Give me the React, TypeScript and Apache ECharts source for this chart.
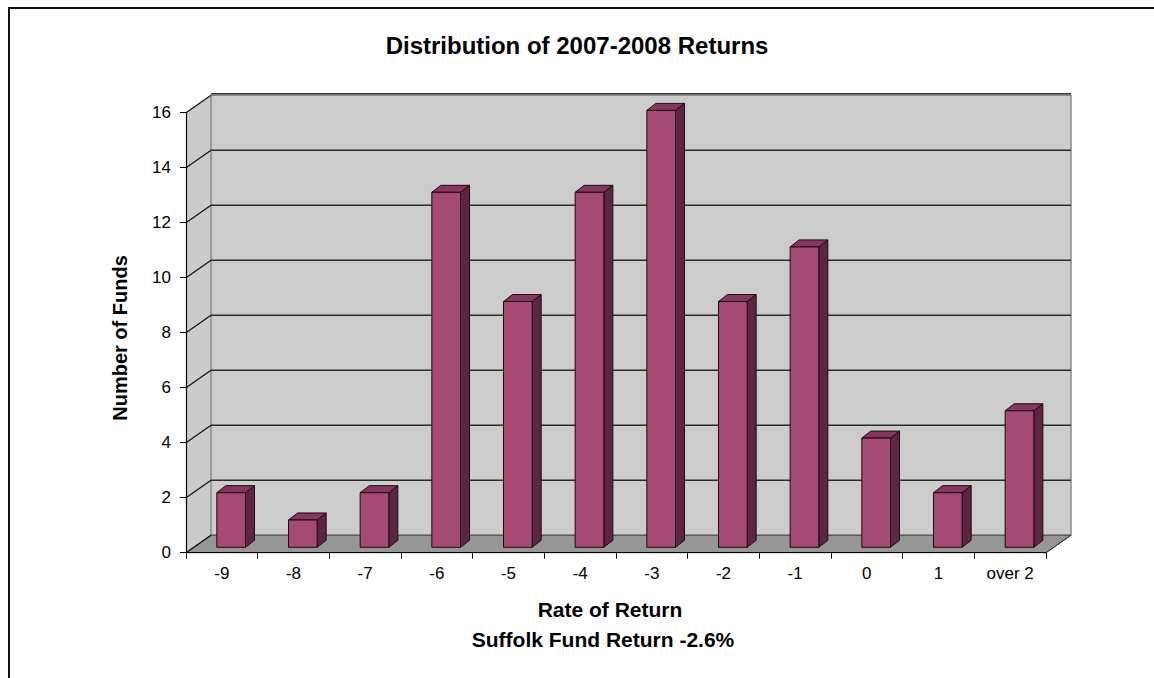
import React, { useEffect, useRef } from "react";
import * as echarts from "echarts";

const categories = ["-9", "-8", "-7", "-6", "-5", "-4", "-3", "-2", "-1", "0", "1", "over 2"];
const funds = [2, 1, 2, 13, 9, 13, 16, 9, 11, 4, 2, 5];
const yMin = 0;
const yMax = 16;
const yStep = 2;
const gridValues = [0, 2, 4, 6, 8, 10, 12, 14, 16];
const titleText = "Distribution of 2007-2008 Returns";
const xName = "Rate of Return";
const xSubName = "Suffolk Fund Return -2.6%";
const yName = "Number of Funds";

const FONT = 'Arial, "Liberation Sans", Helvetica, sans-serif';
const DX = 25;
const DY = -17.5;
const BDX = 9;
const BDY = -7;

export default function App() {
  const ref = useRef<HTMLDivElement>(null);
  useEffect(() => {
    if (!ref.current) return;
    const chart = echarts.init(ref.current, null, { renderer: "svg" });

    const wallsRender = (params: any, api: any) => {
      const cs = params.coordSys;
      const x = cs.x, y = cs.y, w = cs.width, h = cs.height;
      const b = y + h;
      const children: any[] = [];
      children.push({
        type: "polygon",
        shape: { points: [[x, y], [x + DX, y + DY], [x + DX, b + DY], [x, b]] },
        style: { fill: "#cbcbcb" },
      });
      children.push({
        type: "rect",
        shape: { x: x + DX, y: y + DY, width: w, height: h },
        style: { fill: "#cccccc", stroke: "#8a8a8a", lineWidth: 1.5 },
      });
      children.push({
        type: "polygon",
        shape: { points: [[x, b], [x + DX, b + DY], [x + w + DX, b + DY], [x + w, b]] },
        style: { fill: "#969696", stroke: "#444", lineWidth: 1 },
      });
      gridValues.forEach((v) => {
        const yy = api.coord([0, v])[1];
        children.push({
          type: "line",
          shape: { x1: x, y1: yy, x2: x + DX, y2: yy + DY },
          style: { stroke: "#111", lineWidth: 1.2 },
        });
        if (v > 0 && v < yMax) {
          children.push({
            type: "line",
            shape: { x1: x + DX, y1: yy + DY, x2: x + w + DX, y2: yy + DY },
            style: { stroke: "#2a2a2a", lineWidth: 1.5 },
          });
        }
      });
      children.push({
        type: "line",
        shape: { x1: x + DX, y1: y + DY - 1.5, x2: x + w + DX, y2: y + DY - 1.5 },
        style: { stroke: "#333", lineWidth: 1.5 },
      });
      children.push({
        type: "line",
        shape: { x1: x + w, y1: b, x2: x + w + DX, y2: b + DY },
        style: { stroke: "#333", lineWidth: 1 },
      });
      return { type: "group", children };
    };

    const barRender = (params: any, api: any) => {
      const idx = api.value(0);
      const val = api.value(1);
      const base = api.coord([idx, 0]);
      const topP = api.coord([idx, val]);
      const bw = api.size([1, 0])[0] * 0.4;
      const left = base[0] - 5;
      const right = left + bw;
      const yb = base[1] - 5.4;
      const yt = yb - (base[1] - topP[1]) * 0.993;
      const stroke = { stroke: "#1a0a12", lineWidth: 1 };
      return {
        type: "group",
        children: [
          {
            type: "polygon",
            shape: { points: [[right, yt], [right + BDX, yt + BDY], [right + BDX, yb + BDY], [right, yb]] },
            style: { fill: "#5e2543", ...stroke },
          },
          {
            type: "polygon",
            shape: { points: [[left, yt], [left + BDX, yt + BDY], [right + BDX, yt + BDY], [right, yt]] },
            style: { fill: "#85375d", ...stroke },
          },
          {
            type: "rect",
            shape: { x: left, y: yt, width: bw, height: yb - yt },
            style: { fill: "#a44a73", ...stroke },
          },
        ],
      };
    };

    chart.setOption({
      animation: false,
      backgroundColor: "#ffffff",
      textStyle: { fontFamily: FONT },
      grid: { left: 186, right: 108, top: 112.7, bottom: 125.3 },
      xAxis: {
        type: "category",
        data: categories,
        z: 10,
        axisLine: { lineStyle: { color: "#000", width: 1.2 } },
        axisTick: { show: true, length: 6, lineStyle: { color: "#000" } },
        axisLabel: { color: "#000", fontSize: 17, margin: 12, fontFamily: FONT },
      },
      yAxis: {
        type: "value",
        min: yMin,
        max: yMax,
        interval: yStep,
        z: 10,
        axisLine: { show: true, lineStyle: { color: "#000", width: 1.2 } },
        axisTick: { show: true, length: 6, lineStyle: { color: "#000" } },
        axisLabel: { color: "#000", fontSize: 17, margin: 15, fontFamily: FONT },
        splitLine: { show: false },
      },
      graphic: [
        {
          type: "rect",
          shape: { x: 9, y: 8, width: 1300, height: 800 },
          style: { fill: "none", stroke: "#111", lineWidth: 2 },
          silent: true,
        },
        {
          type: "text",
          x: 577,
          y: 45,
          style: { text: titleText, font: `bold 24px ${FONT}`, fill: "#000", align: "center", verticalAlign: "middle" },
        },
        {
          type: "text",
          x: 120,
          y: 338,
          rotation: Math.PI / 2,
          style: { text: yName, font: `bold 20px ${FONT}`, fill: "#000", align: "center", verticalAlign: "middle" },
        },
        {
          type: "text",
          x: 610,
          y: 609,
          style: { text: xName, font: `bold 21px ${FONT}`, fill: "#000", align: "center", verticalAlign: "middle" },
        },
        {
          type: "text",
          x: 603,
          y: 639,
          style: { text: xSubName, font: `bold 21px ${FONT}`, fill: "#000", align: "center", verticalAlign: "middle" },
        },
      ],
      series: [
        {
          type: "custom",
          name: "walls",
          silent: true,
          z: 1,
          renderItem: wallsRender,
          data: [[0, 0]],
        },
        {
          type: "custom",
          name: "Number of Funds",
          z: 3,
          renderItem: barRender,
          encode: { x: 0, y: 1 },
          data: funds.map((v, i) => [i, v]),
        },
      ],
    });
    return () => chart.dispose();
  }, []);
  return <div ref={ref} style={{ position: "absolute", left: 0, top: 0, width: 1154, height: 678 }} />;
}
